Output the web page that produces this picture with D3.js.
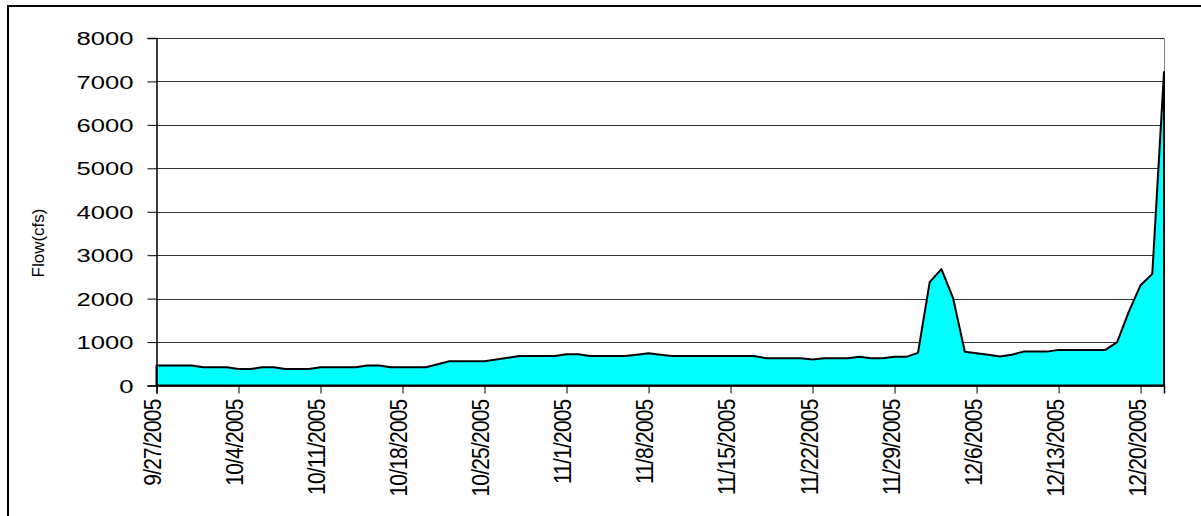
<!DOCTYPE html>
<html>
<head>
<meta charset="utf-8">
<script src="https://cdn.jsdelivr.net/npm/d3@7"></script>
<style>
  body { margin: 0; background: #fff; }
  svg { display: block; }
  text { font-family: "Liberation Sans", Arial, sans-serif; fill: #000; }
</style>
</head>
<body>
<svg id="chart" width="1201" height="516"></svg>
<script>
// daily flow, 9/27/2005 .. 12/22/2005
var startDay = Date.UTC(2005, 8, 27);
var flow = [
  460, 460, 460, 460, 420, 420, 420, 380, 380, 420,
  420, 380, 380, 380, 420, 420, 420, 420, 460, 460,
  420, 420, 420, 420, 490, 560, 560, 560, 560, 600,
  640, 680, 680, 680, 680, 720, 720, 680, 680, 680,
  680, 710, 740, 710, 680, 680, 680, 680, 680, 680,
  680, 680, 630, 630, 630, 630, 600, 630, 630, 630,
  660, 630, 630, 660, 660, 750, 2380, 2680, 2010, 775,
  740, 710, 670, 710, 780, 780, 780, 820, 820, 820,
  820, 820, 1000, 1700, 2310, 2570, 7220
];
var tickLabels = ["9/27/2005", "10/4/2005", "10/11/2005", "10/18/2005", "10/25/2005",
  "11/1/2005", "11/8/2005", "11/15/2005", "11/22/2005", "11/29/2005",
  "12/6/2005", "12/13/2005", "12/20/2005"];
var yTicks = [0, 1000, 2000, 3000, 4000, 5000, 6000, 7000, 8000];

var data = flow.map(function(v, i) {
  return { date: d3.utcDay.offset(new Date(startDay), i), value: v };
});
var tickDates = tickLabels.map(function(s) {
  var p = s.split("/");
  return new Date(Date.UTC(+p[2], +p[0] - 1, +p[1]));
});

var plotL = 156.5, plotR = 1164, plotT = 38, plotB = 385.5;

var svg = d3.select("#chart");

var x = d3.scaleUtc()
    .domain([data[0].date, data[data.length - 1].date])
    .range([plotL, plotR]);
var y = d3.scaleLinear()
    .domain([0, 8000])
    .range([plotB, plotT]);

// outer chart frame
svg.append("rect")
    .attr("x", 8).attr("y", 6)
    .attr("width", 1210).attr("height", 530)
    .attr("fill", "none")
    .attr("stroke", "#000")
    .attr("stroke-width", 2);

// gridlines
svg.append("g")
  .selectAll("line")
    .data(yTicks.slice(1))
  .enter().append("line")
    .attr("x1", plotL).attr("x2", plotR)
    .attr("y1", function(d) { return Math.round(y(d)) + 0.5; })
    .attr("y2", function(d) { return Math.round(y(d)) + 0.5; })
    .attr("stroke", "#333")
    .attr("stroke-width", 1);

// plot area right border
svg.append("line")
    .attr("x1", plotR + 0.5).attr("x2", plotR + 0.5)
    .attr("y1", plotT).attr("y2", plotB)
    .attr("stroke", "#808080");

var area = d3.area()
    .x(function(d) { return x(d.date); })
    .y0(plotB)
    .y1(function(d) { return y(d.value); });

svg.append("path")
    .datum(data)
    .attr("d", area)
    .attr("fill", "#00ffff")
    .attr("stroke", "#000")
    .attr("stroke-width", 2)
    .attr("stroke-linejoin", "round");

// y axis
var yAxis = svg.append("g")
    .attr("transform", "translate(" + plotL + ",0)")
    .call(d3.axisLeft(y).tickValues(yTicks).tickSize(9).tickFormat(""));
yAxis.select(".domain").attr("stroke", "#000").attr("stroke-width", 1.5);
yAxis.selectAll(".tick line").attr("stroke", "#000");
yAxis.selectAll(".tick")
  .append("text")
    .attr("text-anchor", "end")
    .attr("font-size", 19)
    .attr("dy", "0.35em")
    .attr("transform", "translate(-23,0) scale(1.35,1)")
    .text(function(d) { return d; });

// x axis
var xAxis = svg.append("g")
    .attr("transform", "translate(0," + plotB + ")")
    .call(d3.axisBottom(x).tickValues(tickDates).tickSize(8).tickFormat(""));
xAxis.select(".domain").attr("stroke", "#000").attr("stroke-width", 1.5);
xAxis.selectAll(".tick line").attr("stroke", "#000");
xAxis.selectAll(".tick")
  .append("text")
    .attr("text-anchor", "end")
    .attr("font-size", 21)
    .attr("letter-spacing", -0.8)
    .attr("dy", "0.35em")
    .attr("transform", "translate(-4,14) rotate(-90) scale(1,1.15)")
    .text(function(d, i) { return tickLabels[i]; });

// axis title
svg.append("text")
    .attr("transform", "translate(44,243) rotate(-90)")
    .attr("text-anchor", "middle")
    .attr("font-size", 17)
    .text("Flow(cfs)");
</script>
</body>
</html>
